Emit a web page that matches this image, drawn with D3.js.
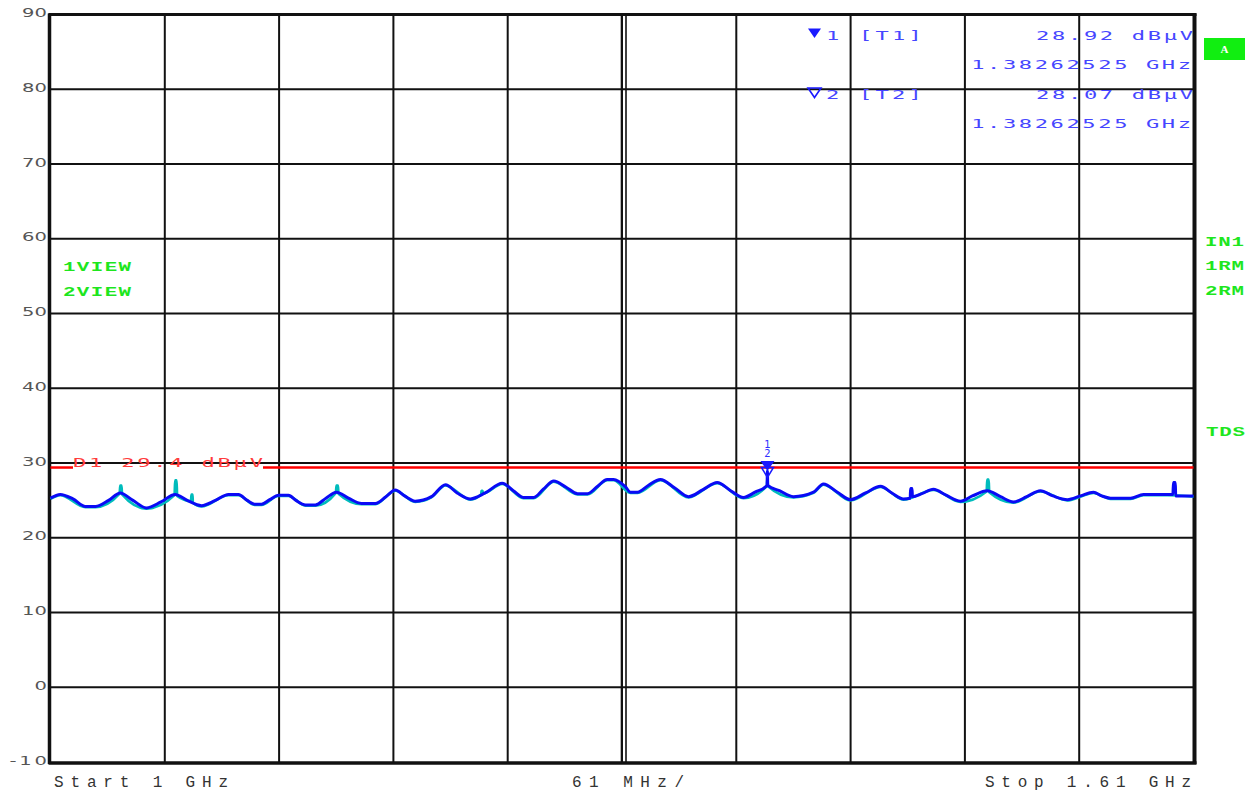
<!DOCTYPE html>
<html><head><meta charset="utf-8">
<script src="https://cdn.jsdelivr.net/npm/d3@7"></script>
<style>html,body{margin:0;padding:0;background:#fff;} svg{display:block;}</style>
</head><body>
<svg id="chart" width="1252" height="792"></svg>
<script>
// ---------- data ----------
const yTicks = [90, 80, 70, 60, 50, 40, 30, 20, 10, 0, -10];
const xDivisionsMHz = [1000, 1061, 1122, 1183, 1244, 1305, 1366, 1427, 1488, 1549, 1610];
const startLabel = "Start 1 GHz";
const spanLabel = "61 MHz/";
const stopLabel = "Stop 1.61 GHz";
const displayLine = 29.4;
const displayLineLabel = "D1 29.4 dBµV";
const markerNames = ["1", "2"];
const markerTraceNames = ["[T1]", "[T2]"];
const markerFreqMHz = [1382.62525, 1382.62525];
const markerLevels = [28.92, 28.07];
const markerLevelText = ["28.92 dBµV", "28.07 dBµV"];
const markerFreqText = ["1.38262525 GHz", "1.38262525 GHz"];
const leftLabels = ["1VIEW", "2VIEW"];
const rightLabels = ["IN1", "1RM", "2RM"];
const tdsLabel = "TDS";
const boxLabel = "A";

// trace 1 (blue, on top)
const trace1Freq = [1000.0,1005.2,1012,1018.7,1024.0,1031,1037.2,1044,1051.2,1059,1066.5,1073,1080.6,1088,1095.0,1100.3,1105,1108.9,1112.6,1117,1121.7,1127.0,1131,1136.1,1141.4,1147,1152.6,1159,1166.0,1173.4,1179,1184.0,1189,1194.6,1203.3,1210.8,1217,1224.1,1232,1241.1,1247,1252.4,1257.8,1263,1268.6,1275,1281.3,1286.6,1292,1297.1,1300.5,1306.9,1309.5,1313.3,1319,1325.5,1333,1340.5,1348,1355.8,1363,1369.8,1376,1382.4,1382.6,1382.8,1389,1396.5,1407.2,1412.5,1420,1426.9,1435,1443.0,1449,1455.2,1458.8,1459.0,1459.8,1460.0,1465,1471.2,1478,1485.6,1492,1499.9,1507,1513.9,1521,1528.3,1535,1542.7,1549.7,1556.6,1561,1565.7,1576.4,1583.3,1596.1,1599.0,1599.3,1600.3,1600.5,1610];
const trace1Level = [25.3,25.8,25.2,24.2,24.2,25.0,26.0,25.0,24.0,24.8,25.8,25.0,24.3,25.0,25.8,25.8,25.0,24.5,24.5,25.1,25.7,25.7,25.0,24.4,24.4,25.3,26.1,25.3,24.6,24.6,25.5,26.4,25.6,24.9,25.5,27.1,26.0,25.2,26.0,27.3,26.3,25.4,25.4,26.5,27.6,26.8,25.9,25.9,26.9,27.8,27.8,26.8,26.1,26.1,27.0,27.8,26.7,25.5,26.4,27.4,26.3,25.4,26.1,27.0,28.92,27.0,26.3,25.5,26.1,27.2,26.1,25.1,26.0,26.9,26.0,25.2,25.3,26.6,26.6,25.5,25.9,26.5,25.7,24.9,25.6,26.3,25.5,24.8,25.5,26.3,25.6,25.1,25.6,26.1,25.6,25.3,25.3,25.8,25.8,25.8,27.4,27.4,25.6,25.6];

// trace 2 (cyan, underneath)
const trace2Freq = [1000,1005.2,1018.7,1024,1036.9,1037.2,1037.9,1038.2,1051.2,1066.2,1066.5,1067.3,1067.6,1075.0,1075.2,1075.8,1076.0,1080.6,1095,1100.3,1108.9,1112.6,1121.7,1127,1136.1,1141.4,1152.3,1152.6,1153.4,1153.7,1166,1173.4,1184,1194.6,1203.3,1210.8,1224.1,1229.8,1230.0,1230.6,1230.8,1241.1,1252.4,1257.8,1268.6,1281.3,1286.6,1297.1,1300.5,1309.5,1313.3,1325.5,1340.5,1355.8,1369.8,1382.3,1382.6,1382.9,1396.5,1407.2,1412.5,1426.9,1443,1455.2,1471.2,1485.6,1499.6,1499.9,1500.7,1501.0,1513.9,1528.3,1542.7,1549.7,1556.6,1565.7,1576.4,1583.3,1596.1,1610];
const trace2Level = [25.2,25.7,24.1,24.1,25.9,27.0,27.0,25.8,23.9,25.7,27.7,27.7,25.6,24.9,25.8,25.8,24.7,24.2,25.7,25.7,24.4,24.4,25.6,25.6,24.3,24.3,26.0,27.0,27.0,25.9,24.5,24.5,26.3,24.8,25.4,27.0,25.1,25.8,26.3,26.3,25.9,27.2,25.3,25.3,27.5,25.8,25.8,27.7,27.7,26.0,26.0,27.7,25.4,27.3,25.3,26.9,28.07,26.9,25.4,26.0,27.1,25.0,26.8,25.1,26.4,24.8,26.2,27.8,27.8,26.1,24.7,26.2,25.0,25.5,26.0,25.2,25.2,25.7,25.7,25.5];

// ---------- drawing ----------
const svg = d3.select("#chart");
const x = d3.scaleLinear().domain([1000, 1610]).range([50.5, 1193.5]);
const y = d3.scaleLinear().domain([-10, 90]).range([762, 14.6]);

function wideText(parent, str, xLeft, yBase, width, o) {
  const sx = o.sx || 1;
  const g = parent.append("g").attr("transform", `translate(${xLeft},${yBase}) scale(${sx},1)`);
  g.append("text").attr("x", 0).attr("y", 0)
    .attr("textLength", width / sx).attr("lengthAdjust", "spacing")
    .style("font-family", o.family).style("font-size", o.size + "px")
    .style("font-weight", o.weight || "normal")
    .attr("fill", o.fill).text(str);
  return g;
}

const grid = svg.append("g");
// horizontal grid lines
grid.selectAll("line.h").data(yTicks.filter(v => v !== 90 && v !== -10)).join("line")
  .attr("x1", x(1000)).attr("x2", x(1610))
  .attr("y1", d => y(d)).attr("y2", d => y(d))
  .attr("stroke", "#111").attr("stroke-width", 2);
// vertical grid lines
const inner = xDivisionsMHz.slice(1, -1);
grid.selectAll("line.v").data(inner).join("line")
  .attr("x1", d => x(d)).attr("x2", d => x(d))
  .attr("y1", y(90)).attr("y2", y(-10))
  .attr("stroke", "#111").attr("stroke-width", 2);
// center double line
const mid = xDivisionsMHz[5];
[-0.5, 4].forEach(off => {
  grid.append("line").attr("x1", x(mid) + off).attr("x2", x(mid) + off)
    .attr("y1", y(90)).attr("y2", y(-10)).attr("stroke", "#111").attr("stroke-width", 1.6);
});
// borders
grid.append("line").attr("x1", x(1000) - 1).attr("x2", x(1000) - 1).attr("y1", y(90) - 1).attr("y2", y(-10) + 2).attr("stroke", "#111").attr("stroke-width", 3.5);
grid.append("line").attr("x1", x(1610) + 1).attr("x2", x(1610) + 1).attr("y1", y(90) - 1).attr("y2", y(-10) + 2).attr("stroke", "#111").attr("stroke-width", 4);
grid.append("line").attr("x1", x(1000) - 2).attr("x2", x(1610) + 3).attr("y1", y(90)).attr("y2", y(90)).attr("stroke", "#111").attr("stroke-width", 3);
grid.append("line").attr("x1", x(1000) - 2).attr("x2", x(1610) + 3).attr("y1", y(-10) + 1).attr("y2", y(-10) + 1).attr("stroke", "#111").attr("stroke-width", 3.5);

// y tick labels
yTicks.forEach(v => {
  const s = String(v);
  const w = s.length * 12.5;
  wideText(svg, s, 47 - w, y(v) + 2.5, w, {family: "DejaVu Sans", size: 13, fill: "#555", sx: 1.5});
});

// display line D1
const dl = svg.append("g");
wideText(dl, displayLineLabel, 73, y(displayLine) - 0.5, 190, {family: "DejaVu Sans Mono", size: 13, fill: "#ff3b3b", sx: 1.7});
dl.append("line").attr("x1", x(1000)).attr("x2", 73).attr("y1", y(displayLine)).attr("y2", y(displayLine)).attr("stroke", "#ff0000").attr("stroke-width", 2.5);
dl.append("line").attr("x1", 73 + 190).attr("x2", x(1610)).attr("y1", y(displayLine)).attr("y2", y(displayLine)).attr("stroke", "#ff0000").attr("stroke-width", 2.5);

// traces
const line = d3.line().x(d => x(d[0])).y(d => y(d[1])).curve(d3.curveMonotoneX);
svg.append("path").datum(d3.zip(trace2Freq, trace2Level)).attr("d", line)
  .attr("fill", "none").attr("stroke", "#00bcbc").attr("stroke-width", 2.6).attr("stroke-linejoin", "round");
svg.append("path").datum(d3.zip(trace1Freq, trace1Level)).attr("d", line)
  .attr("fill", "none").attr("stroke", "#0a0af5").attr("stroke-width", 3).attr("stroke-linejoin", "round");

// markers on trace
const mx = x(markerFreqMHz[0]);
svg.append("path").attr("d", `M${mx - 7},${y(markerLevels[0]) - 10} L${mx + 7},${y(markerLevels[0]) - 10} L${mx},${y(markerLevels[0])} Z`).attr("fill", "#1a1aff");
svg.append("path").attr("d", `M${x(markerFreqMHz[1]) - 6},${y(markerLevels[1]) - 10} L${x(markerFreqMHz[1]) + 6},${y(markerLevels[1]) - 10} L${x(markerFreqMHz[1])},${y(markerLevels[1])} Z`).attr("fill", "none").attr("stroke", "#1a1aff").attr("stroke-width", 1.5);
svg.append("text").attr("x", mx).attr("y", y(markerLevels[0]) - 23).attr("text-anchor", "middle")
  .style("font-family", "DejaVu Sans").style("font-size", "10px").attr("fill", "#3030ff").text(markerNames[0]);
svg.append("text").attr("x", mx).attr("y", y(markerLevels[0]) - 14).attr("text-anchor", "middle")
  .style("font-family", "DejaVu Sans").style("font-size", "10px").attr("fill", "#3030ff").text(markerNames[1]);

// marker info block
const pitch = 15.7;
const rowBase = [39.5, 69, 99, 127.5];
const mtxt = {family: "DejaVu Sans Mono", size: 13, fill: "#4646ff", sx: 1.7};
markerNames.forEach((nm, i) => {
  const b1 = rowBase[i * 2], b2 = rowBase[i * 2 + 1];
  const tri = svg.append("path")
    .attr("d", `M808,${b1 - 11} L821,${b1 - 11} L814.5,${b1 - 1.5} Z`);
  if (i === 0) tri.attr("fill", "#1a1aff");
  else tri.attr("fill", "none").attr("stroke", "#1a1aff").attr("stroke-width", 1.6);
  wideText(svg, nm, 826, b1, pitch, mtxt);
  wideText(svg, markerTraceNames[i], 859, b1, 4 * pitch, mtxt);
  const w1 = markerLevelText[i].length * pitch;
  wideText(svg, markerLevelText[i], 1193 - w1, b1, w1, mtxt);
  const w2 = markerFreqText[i].length * pitch;
  wideText(svg, markerFreqText[i], 1191 - w2, b2, w2, mtxt);
});

// green status labels
const gtxt = {family: "Liberation Mono", size: 13, fill: "#1ee61e", weight: "bold", sx: 1.6};
leftLabels.forEach((s, i) => wideText(svg, s, 63, 271 + i * 25, 68, gtxt));
rightLabels.forEach((s, i) => wideText(svg, s, 1205, 246 + i * 24.3, 39, gtxt));
wideText(svg, tdsLabel, 1206, 435.5, 39, gtxt);
svg.append("rect").attr("x", 1204).attr("y", 38).attr("width", 41).attr("height", 22).attr("fill", "#11ee11");
svg.append("text").attr("x", 1224.5).attr("y", 53).attr("text-anchor", "middle")
  .style("font-family", "Liberation Serif").style("font-size", "11px").style("font-weight", "bold")
  .attr("fill", "#fff").text(boxLabel);

// bottom labels
const btxt = {family: "Liberation Mono", size: 16, fill: "#333", sx: 1};
wideText(svg, startLabel, 54, 787, 174, btxt);
wideText(svg, spanLabel, 572, 787, 112, btxt);
wideText(svg, stopLabel, 985, 787, 206, btxt);
</script>
</body></html>
